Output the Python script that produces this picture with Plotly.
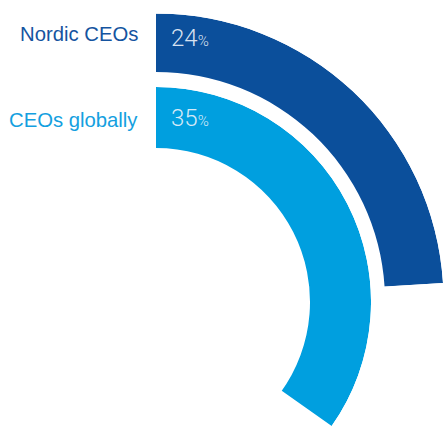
import math
import plotly.graph_objects as go

# ---- data ----
categories = ["Nordic CEOs", "CEOs globally"]
values = [24, 35]            # percent
value_labels = ["24", "35"]

# ---- style / layout ----
W, H = 443, 426
arc_colors = ["#0b4f9b", "#009fdf"]
label_colors = ["#15549f", "#14a0e0"]
FULL = 360.0

fig = go.Figure()

cx = 156
geo = [
    dict(cy=301.0, inner=229.0),
    dict(cy=302.0, inner=154.0, outer=215.0),
]

polar_layouts = {}
for i, (cat, v) in enumerate(zip(categories, values)):
    span = v / 100.0 * FULL
    sub = "polar" if i == 0 else "polar%d" % (i + 1)
    g = geo[i]
    if i == 0:
        s0 = 90 - span
        wfrac = math.cos(math.radians(s0))
        R = (W - cx) / wfrac
        top = g["cy"] - R
        dom_x = [cx / W, 1.0]
        dom_y = [1 - g["cy"] / H, 1 - top / H]
        sector = [s0, 90]
    else:
        R = g["outer"]
        s_lim = math.degrees(math.asin(min(1.0, (H - g["cy"]) / R)))
        s0 = max(90 - span, -s_lim + 0.02)
        y0 = -math.sin(math.radians(-s0))
        dom_x = [cx / W, (cx + R) / W]
        dom_y = [1 - (g["cy"] - y0 * R) / H, 1 - (g["cy"] - R) / H]
        dom_y = [max(0.0, dom_y[0]), min(1.0, dom_y[1])]
        sector = [s0, 90]
    fig.add_trace(go.Barpolar(
        r=[R - g["inner"]],
        base=[g["inner"]],
        theta=[span / 2.0],
        width=[span],
        marker=dict(color=arc_colors[i], line=dict(width=0)),
        subplot=sub,
        hoverinfo="skip",
        showlegend=False,
    ))
    polar_layouts[sub] = dict(
        domain=dict(x=dom_x, y=dom_y),
        sector=sector,
        bgcolor="rgba(0,0,0,0)",
        radialaxis=dict(visible=False, range=[0, R]),
        angularaxis=dict(visible=False, rotation=90, direction="clockwise"),
    )

fig.update_layout(**polar_layouts)

annotations = []
label_y = [34.0, 119.5]
pct_y = [38, 118]
for i, cat in enumerate(categories):
    annotations.append(dict(
        text=cat, xref="paper", yref="paper",
        x=140 / W, y=1 - label_y[i] / H, xanchor="right", yanchor="middle",
        showarrow=False,
        font=dict(family="Liberation Sans, Arial, sans-serif", size=20.3,
                  color=label_colors[i]),
    ))
    annotations.append(dict(
        text=value_labels[i] + "<span style='font-size:15px'>%</span>",
        xref="paper", yref="paper",
        x=169 / W, y=1 - pct_y[i] / H, xanchor="left", yanchor="middle",
        showarrow=False,
        font=dict(family="Roboto, sans-serif", size=24, weight=300,
                  color="rgba(235,242,250,0.92)"),
    ))

fig.update_layout(
    width=W, height=H,
    margin=dict(l=0, r=0, t=0, b=0),
    paper_bgcolor="white",
    plot_bgcolor="white",
    showlegend=False,
    annotations=annotations,
)

fig.write_html("out.html",
               config={"displayModeBar": False},
               post_script="document.body.style.margin='0';")
